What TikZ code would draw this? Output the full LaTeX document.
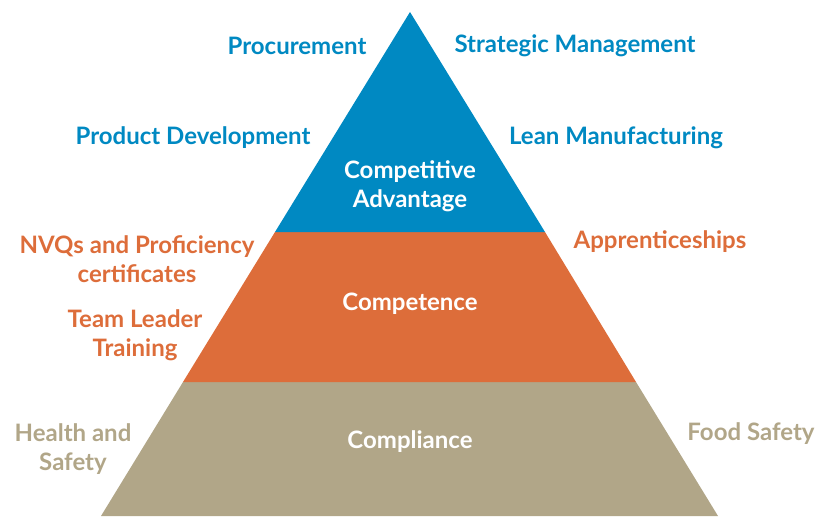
\documentclass[tikz,border=0pt]{standalone}
\usepackage{fontspec}
\setmainfont{Lato}
\definecolor{topblue}{RGB}{0,137,194}
\definecolor{midorange}{RGB}{221,109,58}
\definecolor{basetan}{RGB}{177,166,136}
\tikzset{
    tier/.style={white, font=\fontsize{24}{29}\selectfont\bfseries, align=center},
    side/.style={font=\fontsize{24}{29}\selectfont\bfseries, align=center}
}

\begin{document}
\begin{tikzpicture}[x=1pt, y=-1pt]
    \useasboundingbox (0,0) rectangle (818,516);
    % Corners of the pyramid
    \coordinate (apex) at (410,12);
    \coordinate (bl) at (101,516);
    \coordinate (br) at (718,516);
    % Draw the three tiers
    \fill[basetan] (183,382) -- (636,382) -- (br) -- (bl) -- cycle;
    \fill[midorange] (275,232) -- (545,232) -- (636,382) -- (183,382) -- cycle;
    \fill[topblue] (apex) -- (545,232) -- (275,232) -- cycle;
    % Tier names
    \node[tier] (advantage) at (410,186) {Competitive\\Advantage};
    \node[tier] (competence) at (410,304) {Competence};
    \node[tier] (compliance) at (410,442) {Compliance};
    % Labels around the top tier
    \node[side, topblue] (procure) at (297,46) {Procurement};
    \node[side, topblue] (strategic) at (575,46) {Strategic Management};
    \node[side, topblue] (product) at (193,138) {Product Development};
    \node[side, topblue] (lean) at (616,138) {Lean Manufacturing};
    % Labels around the middle tier
    \node[side, midorange] (nvq) at (137,259) {NVQs and Proficiency\\certificates};
    \node[side, midorange] (leader) at (135,335) {Team Leader\\Training};
    \node[side, midorange] (apprentice) at (660,242) {Apprenticeships};
    % Labels around the base
    \node[side, basetan] (health) at (73,449) {Health and\\Safety};
    \node[side, basetan] (food) at (751,434) {Food Safety};
\end{tikzpicture}
\end{document}
